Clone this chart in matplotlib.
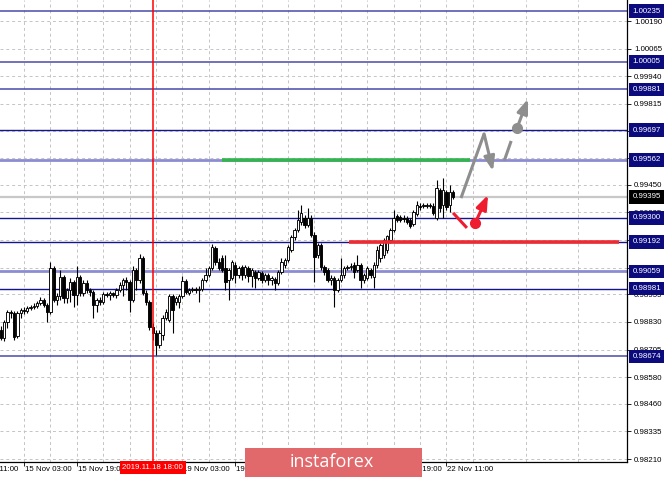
import numpy as np
import matplotlib
matplotlib.use("Agg")
import matplotlib.pyplot as plt
from matplotlib.transforms import blended_transform_factory
from matplotlib.patches import Rectangle

plt.rcParams['font.family'] = ['Liberation Sans', 'DejaVu Sans']

# H1 bars, first bar = 14 Nov 20:00, bar 0 = 15 Nov 03:00
first_bar = -7
opens = [
    0.98794, 0.98758, 0.98830, 0.98875, 0.98871, 0.98767, 0.98871,
    0.98884, 0.98880, 0.98893, 0.98898, 0.98902, 0.98916, 0.98929, 0.98907, 0.98875, 0.99074,
    0.98929, 0.98948, 0.99033, 0.98938, 0.98975, 0.99011, 0.98952, 0.99033, 0.98961, 0.99006,
    0.98975, 0.98966, 0.98907, 0.98929, 0.98920, 0.98957, 0.98952, 0.98961, 0.98952, 0.98975,
    0.98997, 0.99020, 0.99011, 0.98929, 0.99065, 0.99020, 0.99119, 0.98961, 0.98920, 0.98807,
    0.98780, 0.98726, 0.98771, 0.98848, 0.98839, 0.98948, 0.98920, 0.98920, 0.98948, 0.99015,
    0.98961, 0.98975, 0.98979, 0.98975, 0.98979, 0.99020, 0.99042, 0.99074, 0.99164, 0.99101,
    0.99119, 0.99074, 0.99020, 0.99029, 0.99088, 0.99042, 0.99079, 0.99042, 0.99074, 0.99038,
    0.99056, 0.99029, 0.99051, 0.99020, 0.99042, 0.99020, 0.99024, 0.99006, 0.99056, 0.99088,
    0.99110, 0.99155, 0.99214, 0.99246, 0.99282, 0.99300, 0.99268, 0.99300, 0.99223, 0.99133,
    0.99178, 0.99079, 0.99065, 0.99020, 0.99029, 0.98975, 0.99020, 0.99042, 0.99074, 0.99079,
    0.99088, 0.99065, 0.99088, 0.99020, 0.99029, 0.99065, 0.99033, 0.99088, 0.99119, 0.99133,
    0.99155, 0.99201, 0.99246, 0.99309, 0.99305, 0.99300, 0.99300, 0.99291, 0.99273, 0.99318,
    0.99354, 0.99354, 0.99354, 0.99359, 0.99354, 0.99300, 0.99427, 0.99359, 0.99418, 0.99359,
    0.99418]
highs = [
    0.98812, 0.98839, 0.98884, 0.98884, 0.98880, 0.98880, 0.98893,
    0.98898, 0.98902, 0.98907, 0.98916, 0.98925, 0.98943, 0.98938, 0.98916, 0.99101, 0.99083,
    0.98961, 0.99065, 0.99042, 0.98984, 0.99029, 0.99020, 0.99083, 0.99042, 0.99020, 0.99020,
    0.98984, 0.98975, 0.98938, 0.98943, 0.98966, 0.98966, 0.98970, 0.98966, 0.98984, 0.99011,
    0.99029, 0.99033, 0.99020, 0.99083, 0.99074, 0.99137, 0.99128, 0.98975, 0.98929, 0.98826,
    0.98794, 0.98794, 0.98862, 0.98889, 0.98957, 0.98957, 0.98948, 0.98957, 0.99038, 0.99024,
    0.98984, 0.98988, 0.98988, 0.98993, 0.99029, 0.99074, 0.99083, 0.99182, 0.99173, 0.99119,
    0.99133, 0.99133, 0.99074, 0.99110, 0.99101, 0.99083, 0.99088, 0.99088, 0.99083, 0.99074,
    0.99065, 0.99065, 0.99061, 0.99051, 0.99051, 0.99038, 0.99033, 0.99065, 0.99119, 0.99119,
    0.99178, 0.99223, 0.99255, 0.99336, 0.99359, 0.99314, 0.99345, 0.99314, 0.99237, 0.99187,
    0.99187, 0.99088, 0.99074, 0.99042, 0.99038, 0.99029, 0.99119, 0.99083, 0.99088, 0.99097,
    0.99101, 0.99133, 0.99097, 0.99051, 0.99083, 0.99074, 0.99101, 0.99173, 0.99187, 0.99210,
    0.99223, 0.99255, 0.99336, 0.99318, 0.99314, 0.99314, 0.99309, 0.99300, 0.99336, 0.99377,
    0.99368, 0.99368, 0.99368, 0.99368, 0.99368, 0.99472, 0.99436, 0.99481, 0.99427, 0.99449,
    0.99427]
lows = [
    0.98749, 0.98744, 0.98803, 0.98848, 0.98749, 0.98758, 0.98848,
    0.98866, 0.98871, 0.98884, 0.98889, 0.98893, 0.98907, 0.98898, 0.98830, 0.98866, 0.98920,
    0.98907, 0.98929, 0.98916, 0.98916, 0.98920, 0.98898, 0.98907, 0.98948, 0.98948, 0.98961,
    0.98948, 0.98848, 0.98875, 0.98907, 0.98911, 0.98943, 0.98929, 0.98943, 0.98938, 0.98966,
    0.98948, 0.98975, 0.98875, 0.98920, 0.98975, 0.99006, 0.98952, 0.98907, 0.98794, 0.98749,
    0.98681, 0.98712, 0.98749, 0.98839, 0.98830, 0.98780, 0.98907, 0.98893, 0.98938, 0.98957,
    0.98952, 0.98966, 0.98961, 0.98920, 0.98970, 0.99011, 0.99033, 0.99065, 0.99088, 0.99065,
    0.99056, 0.98975, 0.98929, 0.99020, 0.99006, 0.99029, 0.99020, 0.99029, 0.99011, 0.98988,
    0.98984, 0.99020, 0.99006, 0.99011, 0.98997, 0.98997, 0.98975, 0.98997, 0.99047, 0.99074,
    0.99101, 0.99146, 0.99201, 0.99237, 0.99268, 0.99255, 0.99259, 0.99214, 0.99011, 0.99119,
    0.99065, 0.99042, 0.99011, 0.98997, 0.98898, 0.98966, 0.99011, 0.99029, 0.99065, 0.99065,
    0.99029, 0.99056, 0.98984, 0.99006, 0.99020, 0.99029, 0.98984, 0.99074, 0.99101, 0.99119,
    0.99142, 0.99187, 0.99237, 0.99282, 0.99282, 0.99282, 0.99273, 0.99255, 0.99264, 0.99309,
    0.99336, 0.99345, 0.99345, 0.99345, 0.99314, 0.99291, 0.99327, 0.99300, 0.99336, 0.99327,
    0.99386]
closes = [
    0.98758, 0.98830, 0.98875, 0.98871, 0.98762, 0.98871, 0.98884,
    0.98880, 0.98893, 0.98898, 0.98902, 0.98916, 0.98929, 0.98907, 0.98875, 0.99074, 0.98929,
    0.98948, 0.99033, 0.98938, 0.98975, 0.99011, 0.98952, 0.99033, 0.98961, 0.99006, 0.98975,
    0.98966, 0.98907, 0.98929, 0.98920, 0.98957, 0.98952, 0.98961, 0.98952, 0.98975, 0.98997,
    0.99020, 0.99011, 0.98929, 0.99065, 0.99020, 0.99119, 0.98961, 0.98920, 0.98807, 0.98780,
    0.98726, 0.98780, 0.98848, 0.98875, 0.98948, 0.98884, 0.98938, 0.98948, 0.99015, 0.98966,
    0.98975, 0.98979, 0.98975, 0.98979, 0.99020, 0.99042, 0.99074, 0.99169, 0.99101, 0.99074,
    0.99065, 0.99011, 0.99065, 0.99101, 0.99042, 0.99074, 0.99042, 0.99079, 0.99038, 0.99065,
    0.99029, 0.99056, 0.99020, 0.99042, 0.99020, 0.99029, 0.99006, 0.99056, 0.99101, 0.99110,
    0.99169, 0.99214, 0.99246, 0.99291, 0.99323, 0.99268, 0.99300, 0.99223, 0.99124, 0.99178,
    0.99079, 0.99056, 0.99020, 0.99029, 0.98975, 0.99020, 0.99042, 0.99074, 0.99079, 0.99083,
    0.99056, 0.99088, 0.99020, 0.99042, 0.99074, 0.99042, 0.99088, 0.99155, 0.99178, 0.99201,
    0.99219, 0.99246, 0.99300, 0.99291, 0.99291, 0.99295, 0.99282, 0.99264, 0.99327, 0.99359,
    0.99350, 0.99359, 0.99359, 0.99354, 0.99323, 0.99436, 0.99345, 0.99427, 0.99350, 0.99418,
    0.99395]

levels = [1.00235, 1.00005, 0.99881, 0.99697, 0.99562, 0.99300, 0.99192, 0.99059, 0.98981, 0.98674]
level_colors = ['#4a4aaa', '#4a4aaa', '#4a4aaa', '#14148c', '#8c8cd2',
                '#14148c', '#14148c', '#8c8cd2', '#14148c', '#4a4aaa']
level_widths = [1.1, 1.1, 1.1, 1.0, 2.0, 1.0, 1.0, 2.0, 1.0, 1.1]
bid = 0.99395

price_ticks = [0.98210, 0.98335, 0.98460, 0.98580, 0.98705, 0.98830, 0.98955, 0.99075, 0.99200,
               0.99325, 0.99450, 0.99570, 0.99695, 0.99815, 0.99940, 1.00065, 1.00190]
time_ticks = [-16, 0, 16, 32, 48, 64, 80, 96, 112, 128]
time_labels = ['14 Nov 11:00', '15 Nov 03:00', '15 Nov 19:00', '18 Nov 11:00', '19 Nov 03:00',
               '19 Nov 19:00', '20 Nov 11:00', '21 Nov 03:00', '21 Nov 19:00', '22 Nov 11:00']
cursor_bar = 39
cursor_label = '2019.11.18 18:00'

# drawn objects (bar index, price)
green_seg = (60, 135.2, 0.99562)
red_seg = (98.5, 180.3, 0.99192)
up_path_x = [132.4, 139.4, 142.1]
up_path_y = [0.99390, 0.99680, 0.99512]
up_dash_x = [145.5, 147.6]
up_dash_y = [0.99558, 0.99648]
up_dot = (149.4, 0.99707)
up_tip = (152.7, 0.99838)
down_x = [130.0, 134.2]
down_y = [0.99323, 0.99255]
down_dot = (136.7, 0.99277)
down_tip = (140.6, 0.99404)

W, H = 665, 479
fig = plt.figure(figsize=(W / 100, H / 100), dpi=100)
ax = fig.add_axes([0, 17 / H, 627 / W, 462 / H])
ax.set_xlim(-7.27, 182.7)
ax.set_ylim(0.98197, 1.00285)

fs = 5.7
grid_kw = dict(color='#c4c4c4', linestyle=(0, (3, 3)), linewidth=0.7)

# grid
ax.set_yticks(price_ticks)
ax.set_yticklabels([f'{t:.5f}' for t in price_ticks])
ax.yaxis.tick_right()
ax.tick_params(axis='y', length=3, width=0.6, pad=2, labelsize=fs)
ax.set_xticks([t for t in time_ticks if t >= 0])
ax.set_xticklabels([])
ax.set_xticks(np.arange(8, 184, 16), minor=True)
ax.tick_params(axis='x', which='major', length=3, width=0.6)
ax.tick_params(axis='x', which='minor', length=0)
ax.grid(True, which='both', **grid_kw)
ax.set_axisbelow(True)
for s in ['top', 'left']:
    ax.spines[s].set_visible(False)
for s in ['right', 'bottom']:
    ax.spines[s].set_linewidth(0.9)

xa = blended_transform_factory(ax.transData, ax.transAxes)
ya = blended_transform_factory(ax.transAxes, ax.transData)

for t, lab in zip(time_ticks, time_labels):
    ax.text(t + 0.3, -0.009, lab, transform=xa, ha='left', va='top', fontsize=fs, clip_on=False)

# current price line and levels
ax.axhline(bid, color='#c8c8c8', lw=1.6, zorder=1.8)
for lv, col, lw in zip(levels, level_colors, level_widths):
    ax.axhline(lv, color=col, lw=lw, zorder=2)

# candles
x = np.arange(len(opens)) + first_bar
o, h, l, c = (np.array(a) for a in (opens, highs, lows, closes))
up = c >= o
ax.vlines(x, l, h, color='black', lw=0.8, zorder=3)
lo = np.minimum(o, c)
bh = np.maximum(np.abs(c - o), 0.00003)
ax.bar(x[up], bh[up], bottom=lo[up], width=0.72, color='white', edgecolor='black', linewidth=0.65, zorder=4)
ax.bar(x[~up], bh[~up], bottom=lo[~up], width=0.72, color='black', edgecolor='black', linewidth=0.65, zorder=4)

# analysis drawings
ax.hlines(green_seg[2], green_seg[0], green_seg[1], color='#33b44f', lw=2.6, zorder=5)
ax.hlines(red_seg[2], red_seg[0], red_seg[1], color='#ee2a33', lw=2.6, zorder=5)
ax.axvline(cursor_bar, color='#ff0000', lw=1.1, zorder=6)

gray = '#8e8e8e'
red = '#ee1c2e'
head = dict(arrowstyle='-|>,head_length=0.85,head_width=0.32', mutation_scale=10, shrinkA=0, shrinkB=0)
ax.plot(up_path_x[:2], up_path_y[:2], color=gray, lw=2.2, solid_capstyle='butt', zorder=7)
ax.annotate('', xy=(up_path_x[2], up_path_y[2]), xytext=(up_path_x[1], up_path_y[1]),
            arrowprops=dict(color=gray, lw=2.2, **head), zorder=7)
ax.plot(up_dash_x, up_dash_y, color=gray, lw=2.2, solid_capstyle='butt', zorder=7)
ax.plot(*up_dot, 'o', color=gray, ms=7, zorder=7)
ax.annotate('', xy=up_tip, xytext=up_dot, arrowprops=dict(color=gray, lw=2.2, **head), zorder=7)

ax.plot(down_x, down_y, color=red, lw=2.2, solid_capstyle='butt', zorder=7)
ax.plot(*down_dot, 'o', color=red, ms=7, zorder=7)
ax.annotate('', xy=down_tip, xytext=down_dot, arrowprops=dict(color=red, lw=2.2, **head), zorder=7)

# price labels on the right
for lv in levels:
    ax.text(1.0088, lv, f'{lv:.5f}', transform=ya, ha='left', va='center', fontsize=fs, color='white',
            bbox=dict(boxstyle='square,pad=0.4', fc='#0b0b7e', ec='none'), clip_on=False, zorder=10)
ax.text(1.0088, bid, f'{bid:.5f}', transform=ya, ha='left', va='center', fontsize=fs, color='white',
        bbox=dict(boxstyle='square,pad=0.4', fc='black', ec='none'), clip_on=False, zorder=10)

# cursor time label
ax.text(cursor_bar, -0.0045, cursor_label, transform=xa, ha='center', va='top', fontsize=fs, color='white',
        bbox=dict(boxstyle='square,pad=0.35', fc='#ff0000', ec='none'), clip_on=False, zorder=10)

# watermark
fig.add_artist(Rectangle((245 / W, 1 - 477 / H), 177 / W, 29 / H, transform=fig.transFigure,
                         fc='#e1686b', ec='none', zorder=20))
fig.text(332 / W, 1 - 462 / H, 'instaforex', color='white', fontsize=13, family='Open Sans',
         ha='center', va='center', zorder=21)

fig.savefig('out.png', dpi=100)
